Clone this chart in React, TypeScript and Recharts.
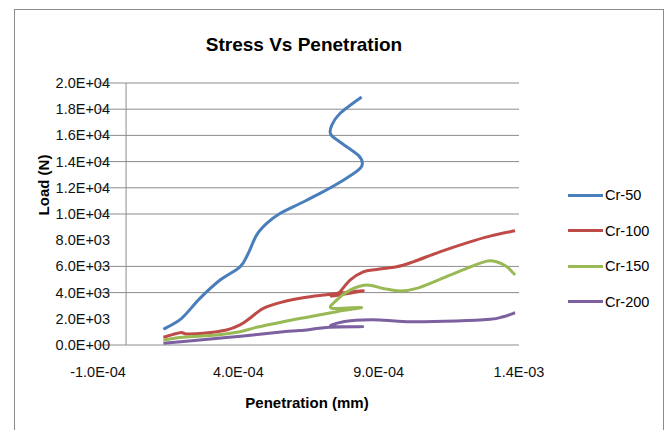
import { ComposedChart, Line, XAxis, YAxis, CartesianGrid, ReferenceLine } from 'recharts'

// penetration (mm) / load (N)
const cr50X = [1.33e-4, 1.98e-4, 2.63e-4, 3.35e-4, 4.06e-4, 4.35e-4, 4.65e-4, 5.01e-4, 5.48e-4, 6.2e-4, 6.91e-4, 7.74e-4, 8.27e-4, 8.42e-4, 8.27e-4, 7.62e-4, 7.29e-4, 7.33e-4, 7.62e-4, 8.39e-4]
const cr50Y = [1200, 2040, 3560, 4960, 5970, 6990, 8390, 9280, 10040, 10800, 11570, 12580, 13340, 13860, 14490, 15500, 16090, 16780, 17670, 18930]

const cr100X = [1.33e-4, 1.92e-4, 2.16e-4, 2.75e-4, 3.58e-4, 4.06e-4, 4.41e-4, 4.89e-4, 5.6e-4, 6.31e-4, 7.03e-4, 8.45e-4, 7.34e-4, 7.62e-4, 7.98e-4, 8.45e-4, 8.93e-4, 9.64e-4, 1.023e-3, 1.118e-3, 1.214e-3, 1.297e-3, 1.386e-3]
const cr100Y = [590, 940, 840, 890, 1140, 1530, 2040, 2800, 3300, 3610, 3810, 4140, 3740, 4060, 4960, 5590, 5770, 5970, 6350, 7110, 7800, 8310, 8720]

const cr150X = [1.33e-4, 2.04e-4, 3.23e-4, 4.06e-4, 4.65e-4, 5.6e-4, 6.55e-4, 7.5e-4, 8.39e-4, 7.33e-4, 7.5e-4, 7.98e-4, 8.56e-4, 9.16e-4, 9.76e-4, 1.035e-3, 1.118e-3, 1.214e-3, 1.285e-3, 1.32e-3, 1.357e-3, 1.386e-3]
const cr150Y = [380, 590, 760, 1010, 1350, 1780, 2160, 2540, 2870, 2800, 3430, 4190, 4575, 4320, 4120, 4320, 5010, 5850, 6400, 6350, 5970, 5340]

const cr200X = [1.33e-4, 2.63e-4, 4.18e-4, 5.6e-4, 6.2e-4, 7.26e-4, 8.43e-4, 7.3e-4, 7.74e-4, 8.45e-4, 9.05e-4, 1.0e-3, 1.178e-3, 1.297e-3, 1.344e-3, 1.386e-3]
const cr200Y = [130, 380, 690, 1010, 1100, 1350, 1400, 1420, 1780, 1910, 1910, 1780, 1830, 1960, 2160, 2460]

const xTicks = [-1e-4, 4e-4, 9e-4, 1.4e-3]
const yTicks = [0, 2000, 4000, 6000, 8000, 10000, 12000, 14000, 16000, 18000, 20000]
// the 2000 and 8000 gridlines are missing in the source image
const gridValues = [0, 4000, 6000, 10000, 12000, 14000, 16000, 18000, 20000]

const zip = (xs: number[], ys: number[]) => xs.map((x, i) => ({ x, y: ys[i] }))

const series = [
  { name: 'Cr-50', color: '#4a7ebb', data: zip(cr50X, cr50Y) },
  { name: 'Cr-100', color: '#be4b48', data: zip(cr100X, cr100Y) },
  { name: 'Cr-150', color: '#98b954', data: zip(cr150X, cr150Y) },
  { name: 'Cr-200', color: '#7d60a0', data: zip(cr200X, cr200Y) },
]

const FONT = '"Liberation Sans", Arial, sans-serif'

function sci(v: number) {
  const [m, e] = v.toExponential(1).split('e')
  const n = parseInt(e, 10)
  return `${m}E${n < 0 ? '-' : '+'}${String(Math.abs(n)).padStart(2, '0')}`
}

// Excel-like smoothing: Catmull-Rom through the points, works when x goes back
function excelSmooth(context: any) {
  let pts: number[][] = []
  return {
    areaStart() {},
    areaEnd() {},
    lineStart() { pts = [] },
    point(x: number, y: number) { pts.push([x, y]) },
    lineEnd() {
      if (!pts.length) return
      context.moveTo(pts[0][0], pts[0][1])
      for (let i = 0; i < pts.length - 1; i++) {
        const p0 = pts[Math.max(i - 1, 0)]
        const p1 = pts[i]
        const p2 = pts[i + 1]
        const p3 = pts[Math.min(i + 2, pts.length - 1)]
        const t = 1 / 6
        context.bezierCurveTo(
          p1[0] + (p2[0] - p0[0]) * t, p1[1] + (p2[1] - p0[1]) * t,
          p2[0] - (p3[0] - p1[0]) * t, p2[1] - (p3[1] - p1[1]) * t,
          p2[0], p2[1],
        )
      }
    },
  }
}

const YTick = ({ y, payload }: any) => (
  <text x={110} y={y} dy={5} textAnchor="end" fontSize={14.5} fontFamily={FONT} fill="#111">
    {sci(payload.value)}
  </text>
)

const XTick = ({ x, payload }: any) => (
  <text x={x} y={377} textAnchor="middle" fontSize={14.5} fontFamily={FONT} fill="#111">
    {sci(payload.value)}
  </text>
)

export default function App() {
  return (
    <div style={{ position: 'absolute', left: 0, top: 0, width: 669, height: 430, overflow: 'hidden', background: '#fff', fontFamily: FONT }}>
      <div style={{ position: 'absolute', left: 14, top: 9, width: 650, height: 440, boxSizing: 'border-box', border: '1px solid #8c8c8c' }} />
      <div style={{ position: 'absolute', left: 154, top: 34, width: 300, textAlign: 'center', fontSize: 19, lineHeight: '22px', fontWeight: 'bold' }}>
        Stress Vs Penetration
      </div>
      <div style={{ position: 'absolute', left: 43, top: 185, transform: 'translate(-50%, -50%) rotate(-90deg)', whiteSpace: 'nowrap', fontSize: 15, fontWeight: 'bold' }}>
        Load (N)
      </div>
      <div style={{ position: 'absolute', left: 307, top: 402, transform: 'translate(-50%, -50%)', whiteSpace: 'nowrap', fontSize: 15, fontWeight: 'bold' }}>
        Penetration (mm)
      </div>
      <div style={{ position: 'absolute', left: 0, top: 0 }}>
        <ComposedChart width={669} height={430} margin={{ top: 83, right: 150, bottom: 0, left: 0 }}>
          <CartesianGrid vertical={false} stroke="#8c8c8c" horizontalValues={gridValues} />
          <XAxis type="number" dataKey="x" domain={[-1e-4, 1.4e-3]} ticks={xTicks} height={85}
            axisLine={false} tickLine={false} tick={XTick} allowDataOverflow />
          <YAxis type="number" domain={[0, 20000]} ticks={yTicks} width={98}
            axisLine={false} tickLine={false} tick={YTick} />
          <ReferenceLine x={0} stroke="#8c8c8c" />
          {series.map((s) => (
            <Line key={s.name} data={s.data} dataKey="y" name={s.name} type={excelSmooth as any}
              stroke={s.color} strokeWidth={3} dot={false} activeDot={false} isAnimationActive={false} />
          ))}
        </ComposedChart>
      </div>
      {series.map((s, i) => (
        <div key={s.name} style={{ position: 'absolute', left: 568, top: 195 + i * 35.6, transform: 'translateY(-50%)', display: 'flex', alignItems: 'center' }}>
          <span style={{ display: 'inline-block', width: 35, height: 3, background: s.color }} />
          <span style={{ marginLeft: 2, fontSize: 14.5 }}>{s.name}</span>
        </div>
      ))}
    </div>
  )
}
